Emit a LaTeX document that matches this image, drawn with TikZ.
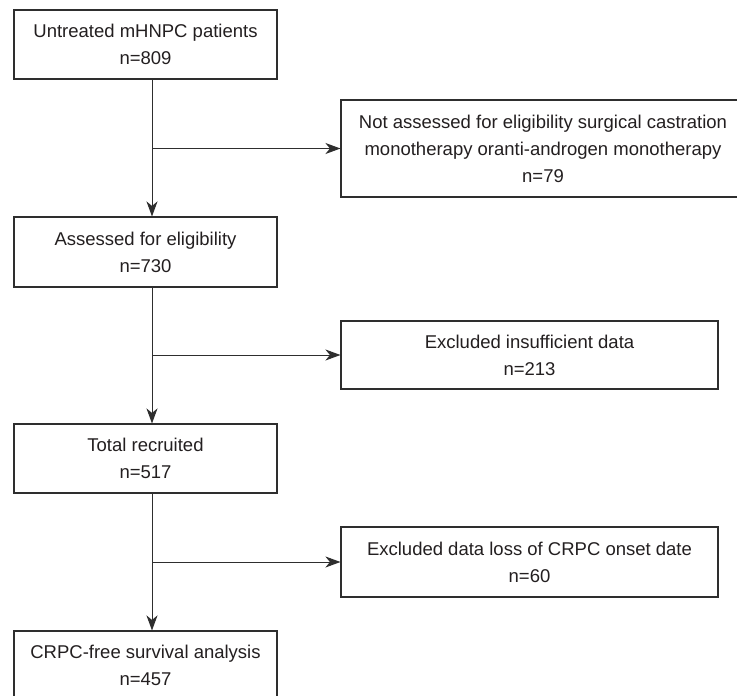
\documentclass[tikz,border=0pt]{standalone}
\usepackage{fontspec}
\setmainfont{Liberation Sans}
\usetikzlibrary{arrows.meta}
\definecolor{linegray}{HTML}{2E2E2E}
\definecolor{textgray}{HTML}{231F20}
\begin{document}
\begin{tikzpicture}[x=1pt,y=-1pt,
  box/.style={draw=linegray, line width=1.1pt, fill=white, align=center, inner sep=0pt,
    font=\fontsize{18.5}{27}\selectfont, text=textgray},
  mainbox/.style={box, minimum width=263pt},
  sidebox/.style={box},
  conn/.style={line width=1pt, draw=linegray},
  arr/.style={conn, -{Stealth[length=15pt,width=11pt,inset=4.5pt]}}]
\useasboundingbox (0,0) rectangle (737,696);
\clip (0,0) rectangle (737,696);
\fill[white] (0,0) rectangle (737,696);

\node[mainbox, minimum height=69pt] (b1) at (145.5,44.5) {Untreated mHNPC patients\\n=809};
\node[mainbox, minimum height=70pt] (b2) at (145.5,252) {Assessed for eligibility\\n=730};
\node[mainbox, minimum height=69pt] (b3) at (145.5,458.5) {Total recruited\\n=517};
\node[mainbox, minimum height=69pt] (b4) at (145.5,665.5) {CRPC-free survival analysis\\n=457};

\node[sidebox, minimum width=404pt, minimum height=97pt] (s1) at (543,148.5)
  {Not assessed for eligibility surgical castration\\monotherapy oranti-androgen monotherapy\\n=79};
\node[sidebox, minimum width=377pt, minimum height=68pt] (s2) at (529.5,355)
  {Excluded insufficient data\\n=213};
\node[sidebox, minimum width=377pt, minimum height=70pt] (s3) at (529.5,562)
  {Excluded data loss of CRPC onset date\\n=60};

\coordinate (trunk) at (152,0);

\draw[arr] (b1.south -| trunk) -- (b2.north -| trunk);
\draw[arr] (b2.south -| trunk) -- (b3.north -| trunk);
\draw[arr] (b3.south -| trunk) -- (b4.north -| trunk);

\draw[arr] (trunk |- s1.west) -- (s1.west);
\draw[arr] (trunk |- s2.west) -- (s2.west);
\draw[arr] (trunk |- s3.west) -- (s3.west);
\end{tikzpicture}
\end{document}
